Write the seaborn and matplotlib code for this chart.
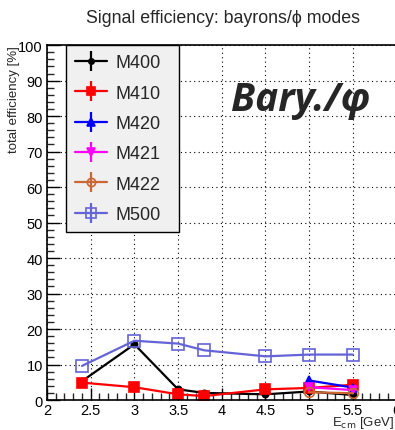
import numpy as np
import pandas as pd
import matplotlib
matplotlib.use("Agg")
import matplotlib.pyplot as plt
from matplotlib.lines import Line2D
from matplotlib.legend_handler import HandlerTuple
from matplotlib.ticker import MultipleLocator
from matplotlib import font_manager as fm
import seaborn as sns

# ---- data ----
x_full = [2.4, 3.0, 3.5, 3.8, 4.5, 5.0, 5.5]
x_hi = [5.0, 5.5]
m400 = [5.3, 15.7, 3.0, 2.0, 1.6, 2.4, 1.4]
m410 = [4.9, 3.6, 1.6, 1.1, 3.0, 3.4, 4.3]
m420 = [5.5, 3.5]
m421 = [3.6, 2.8]
m422 = [2.2, 1.9]
m500 = [9.6, 16.7, 15.9, 14.0, 12.3, 12.8, 12.8]

series_names = ["M400", "M410", "M420", "M421", "M422", "M500"]
series_x = [x_full, x_full, x_hi, x_hi, x_hi, x_full]
series_y = [m400, m410, m420, m421, m422, m500]

colors = ["#000000", "#ff0000", "#0000ff", "#ff00ff", "#cc6633", "#6464d8"]
markers = ["o", "s", "^", "v", "o", "s"]
msizes = [4.5, 7, 6, 6, 7, 9]
filled = [True, True, True, True, False, False]

sns.set_style("white")
plt.rcParams['font.family'] = ['Liberation Sans', 'DejaVu Sans']

# pick a font family that really has a bold italic face
bi_family = "DejaVu Sans"
for cand in ["Open Sans", "Noto Sans", "Lato", "Roboto", "Liberation Sans"]:
    try:
        fp = fm.FontProperties(family=cand, weight="bold", style="italic")
        path = fm.findfont(fp, fallback_to_default=False)
        low = path.lower()
        name = fm.get_font(path).family_name.lower()
        if cand.lower().split()[0] in name and ("bolditalic" in low.replace("-", "").replace("_", "")
                                                 or ("bold" in low and "italic" in low)):
            bi_family = cand
            break
    except Exception:
        pass

fig = plt.figure(figsize=(3.95, 4.31), dpi=100)
ax = fig.add_axes([0.119, 0.0696, 0.885, 0.8234])

handles = []
for name, xs, ys, c, mk, ms, f in zip(series_names, series_x, series_y,
                                       colors, markers, msizes, filled):
    df = pd.DataFrame({"x": xs, "y": ys})
    sns.lineplot(data=df, x="x", y="y", ax=ax, color=c, linewidth=1.6,
                 marker=mk, markersize=ms,
                 markerfacecolor=(c if f else "none"),
                 markeredgecolor=c, markeredgewidth=1.2,
                 estimator=None, sort=False, legend=False)
    h1 = Line2D([], [], color=c, lw=1.6, marker=mk, markersize=ms * 0.85,
                markerfacecolor=(c if f else "none"), markeredgecolor=c,
                markeredgewidth=1.2)
    h2 = Line2D([], [], color=c, lw=0, marker="|", markersize=14,
                markeredgewidth=1.6)
    handles.append((h1, h2))

ax.set_xlim(2, 6)
ax.set_ylim(0, 100)
ax.xaxis.set_minor_locator(MultipleLocator(0.1))
ax.yaxis.set_major_locator(MultipleLocator(10))
ax.yaxis.set_minor_locator(MultipleLocator(2))
ax.set_xticks([2, 2.5, 3, 3.5, 4, 4.5, 5, 5.5, 6])
ax.set_xticklabels(["2", "2.5", "3", "3.5", "4", "4.5", "5", "5.5", "6"])
ax.tick_params(axis="both", which="major", direction="in", length=9,
               width=1, labelsize=10.5, pad=3, colors="black")
ax.tick_params(axis="x", which="major", pad=2)
ax.tick_params(axis="both", which="minor", direction="in", length=5,
               width=1)
ax.tick_params(axis="x", which="both", bottom=True, top=False)
ax.tick_params(axis="y", which="both", left=True, right=False)
ax.grid(True, which="major", linestyle=(0, (1, 3)), color="black",
        linewidth=0.8)
for s in ax.spines.values():
    s.set_color("black")
    s.set_linewidth(1.2)

ax.set_xlabel("")
ax.set_ylabel("total efficiency [%]", fontsize=9.5, loc="top")
ax.yaxis.set_label_coords(-0.077, 1.0)
fig.text(0.997, 1 - 423 / 431, r"E$_{\rm cm}$ [GeV]", fontsize=9.5,
         ha="right", va="center")
fig.text(0.565, 0.957, "Signal efficiency: bayrons/\u03d5 modes",
         ha="center", va="center", fontsize=12.8)

ax.text(0.726, 0.847, "Bary./\u03c6", transform=ax.transAxes,
        fontsize=28, fontweight="bold", fontstyle="italic",
        family=[bi_family, "DejaVu Sans"], ha="center", va="center")

leg = ax.legend(handles, series_names,
                handler_map={tuple: HandlerTuple(ndivide=1, pad=0)},
                loc="upper left", bbox_to_anchor=(0.054, 0.5, 0.323, 0.5),
                mode="expand",
                fontsize=13, frameon=True, fancybox=False, borderaxespad=0,
                labelspacing=0.74, handlelength=1.8, handletextpad=0.45,
                borderpad=0.5)
leg.get_frame().set_facecolor("#f0f0f0")
leg.get_frame().set_edgecolor("black")
leg.get_frame().set_linewidth(1.0)
leg.get_frame().set_alpha(1)

fig.savefig("out.png", dpi=100)
